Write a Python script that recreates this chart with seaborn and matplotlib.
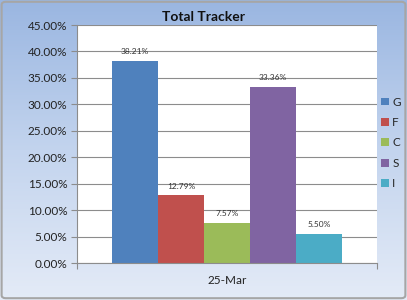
import numpy as np
import pandas as pd
import matplotlib
matplotlib.use("Agg")
import matplotlib.pyplot as plt
from matplotlib.patches import FancyBboxPatch, Rectangle
from matplotlib.colors import LinearSegmentedColormap
import seaborn as sns

# ---- data ----
dates = ["25-Mar"]
series = ["G", "F", "C", "S", "I"]
values = [38.21, 12.79, 7.57, 33.36, 5.50]
colors = ["#4F81BD", "#C0504D", "#9BBB59", "#8064A2", "#4BACC6"]
yticks = [0, 5, 10, 15, 20, 25, 30, 35, 40, 45]

sns.set_theme(style="white")
plt.rcParams['font.family'] = ['Lato', 'DejaVu Sans']

df = pd.DataFrame({"date": dates * len(series), "series": series, "value": values})

fig = plt.figure(figsize=(4.07, 3.00), dpi=100)

# gradient background
bg = fig.add_axes([0, 0, 1, 1], zorder=-5)
bg.set_axis_off()
cmap = LinearSegmentedColormap.from_list("bg", ["#9ab6e1", "#c3d4ee", "#e4ebf7"])
grad = np.linspace(0, 1, 256).reshape(-1, 1)
bg.imshow(grad, aspect="auto", cmap=cmap, extent=[0, 1, 0, 1], origin="upper")
bg.set_xlim(0, 1); bg.set_ylim(0, 1)
bg.add_patch(FancyBboxPatch((0.004, 0.006), 0.992, 0.988,
                            boxstyle="round,pad=0,rounding_size=0.01",
                            fill=False, edgecolor="#a6a6a6", linewidth=1.5,
                            transform=bg.transAxes))

ax = fig.add_axes([77/407, 37/300, 300/407, 238/300])
ax.set_facecolor("white")
sns.barplot(data=df, x="date", y="value", hue="series", palette=colors,
            width=0.767, gap=0, saturation=1, ax=ax, legend=False, edgecolor="none")

ax.set_xlim(-0.5, 0.5)
ax.set_ylim(0, 45)
ax.set_yticks(yticks)
ax.set_yticklabels([f"{v:.2f}%" for v in yticks], fontsize=8.5, color="#222222")
ax.set_xticks([0])
ax.set_xticklabels(dates, fontsize=8.5, color="#222222")
ax.set_xlabel(""); ax.set_ylabel("")
ax.yaxis.grid(True, color="#8c8c8c", linewidth=0.8)
ax.set_axisbelow(True)
for s in ["top", "right"]:
    ax.spines[s].set_visible(False)
for s in ["left", "bottom"]:
    ax.spines[s].set_color("#8c8c8c")
    ax.spines[s].set_linewidth(0.8)
ax.tick_params(axis="y", which="major", length=4, color="#8c8c8c", width=0.8, pad=3, left=True)
ax.tick_params(axis="x", which="major", length=0, pad=9)
ax.set_xticks([-0.5, 0.5], minor=True)
ax.tick_params(axis="x", which="minor", length=4, color="#8c8c8c", width=0.8, bottom=True)

for cont in ax.containers:
    ax.bar_label(cont, labels=[f"{v:.2f}%" for v in cont.datavalues],
                 fontsize=6, color="#333333", padding=4)

fig.text(203/407, 1 - 17/300, "Total Tracker", ha="center", va="center",
         fontsize=10, fontweight="bold", color="#111111")

# legend
handles = [Rectangle((0, 0), 1, 1, facecolor=c, edgecolor="none") for c in colors]
leg = fig.legend(handles, series, loc="center left",
                 bbox_to_anchor=(381/407, 1 - 143/300), frameon=False,
                 fontsize=8.5, handlelength=0.65, handleheight=0.65,
                 handletextpad=0.3, labelspacing=0.8, borderaxespad=0,
                 borderpad=0)

fig.savefig("out.png", dpi=100)
